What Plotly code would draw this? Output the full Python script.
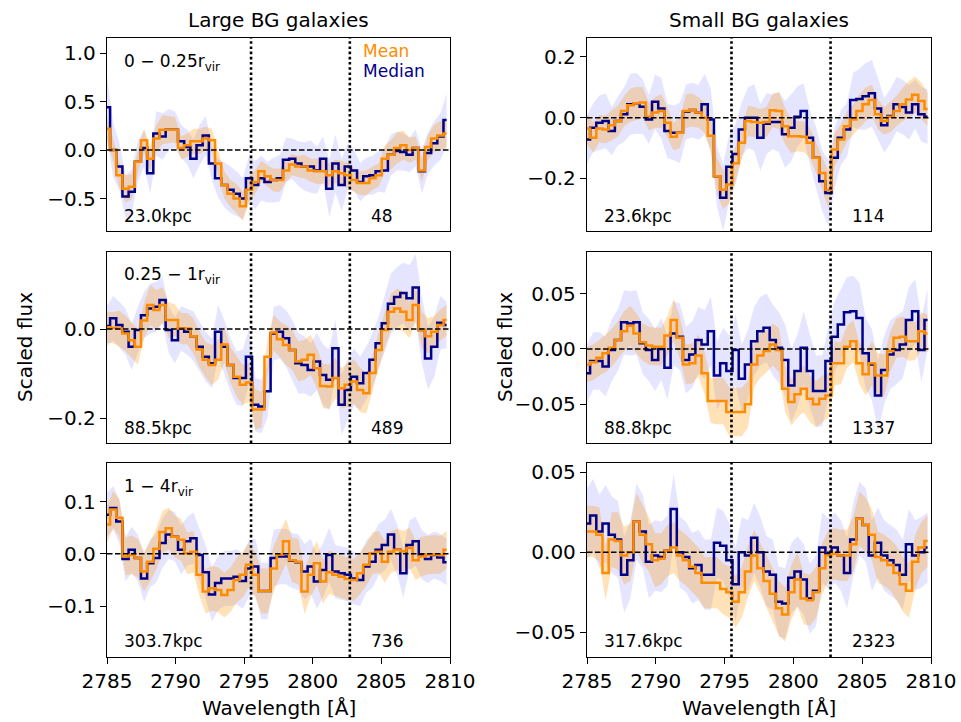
import plotly.graph_objects as go

# ---------------- data ----------------
WAVE_START = 2785.0
WAVE_STEP = 0.45
N_BINS = 56
wave = [round(WAVE_START + WAVE_STEP * i, 3) for i in range(N_BINS)]

LINE_A = 2795.5
LINE_B = 2802.7

# Panel 1: Large BG, 0-0.25 rvir
p1_mean = [0.22, 0.00, -0.26, -0.40, -0.38, -0.12, 0.10, -0.09, 0.12, 0.21, 0.21, 0.21, 0.02, 0.05, 0.09, 0.09,
           0.12, 0.10, -0.14, -0.36, -0.45, -0.50, -0.58, -0.41, -0.33, -0.22, -0.27, -0.31, -0.31, -0.21, -0.15,
           -0.17, -0.17, -0.21, -0.22, -0.22, -0.26, -0.22, -0.24, -0.26, -0.31, -0.34, -0.34, -0.29, -0.26, -0.09,
           -0.05, 0.02, 0.05, 0.00, 0.02, -0.21, 0.03, 0.12, 0.15, 0.17]
p1_median = [0.44, 0.00, -0.17, -0.48, -0.43, -0.12, 0.02, -0.24, 0.17, 0.14, 0.21, 0.21, 0.09, 0.03, -0.09, 0.05,
             0.15, -0.14, -0.29, -0.36, -0.41, -0.45, -0.50, -0.29, -0.36, -0.29, -0.33, -0.31, -0.29, -0.10, -0.09,
             -0.14, -0.17, -0.17, -0.21, -0.09, -0.40, -0.14, -0.36, -0.17, -0.21, -0.33, -0.27, -0.26, -0.22, -0.21,
             -0.05, -0.01, -0.02, -0.05, 0.02, -0.22, -0.03, 0.07, 0.14, 0.31]
p1_mean_err = [0.12, 0.12, 0.13, 0.14, 0.13, 0.12, 0.12, 0.13, 0.14, 0.15, 0.14, 0.13, 0.12, 0.12, 0.13, 0.13, 0.12,
               0.12, 0.13, 0.14, 0.14, 0.15, 0.15, 0.14, 0.12, 0.11, 0.11, 0.12, 0.12, 0.12, 0.11, 0.11, 0.12, 0.12,
               0.13, 0.13, 0.12, 0.12, 0.13, 0.13, 0.12, 0.12, 0.13, 0.12, 0.12, 0.14, 0.15, 0.16, 0.15, 0.13, 0.12,
               0.12, 0.13, 0.14, 0.15, 0.15]
p1_median_err = [0.32, 0.28, 0.24, 0.22, 0.23, 0.21, 0.19, 0.21, 0.23, 0.24, 0.21, 0.19, 0.17, 0.18, 0.20, 0.21, 0.20,
                 0.18, 0.20, 0.23, 0.24, 0.23, 0.21, 0.23, 0.25, 0.23, 0.21, 0.23, 0.24, 0.23, 0.21, 0.23, 0.25, 0.27,
                 0.24, 0.23, 0.29, 0.30, 0.27, 0.24, 0.21, 0.20, 0.19, 0.20, 0.21, 0.23, 0.21, 0.20, 0.19, 0.18, 0.19,
                 0.23, 0.21, 0.23, 0.24, 0.27]

# Panel 2: Small BG, 0-0.25 rvir
p2_mean = [-0.036, -0.066, -0.036, -0.039, -0.025, -0.011, 0.022, 0.041, 0.047, 0.050, 0.003, 0.017, 0.022, -0.017,
           -0.063, -0.050, 0.022, 0.025, 0.017, 0.000, -0.060, -0.193, -0.237, -0.220, -0.150, -0.083, -0.011, -0.014,
           -0.017, -0.014, 0.024, 0.022, -0.028, -0.061, -0.061, -0.063, -0.083, -0.132, -0.182, -0.237, -0.105,
           -0.072, -0.028, -0.006, 0.022, 0.044, 0.058, 0.011, -0.011, 0.003, 0.022, 0.044, 0.060, 0.075, 0.055, 0.028]
p2_median = [-0.072, -0.033, -0.017, -0.011, -0.044, -0.011, 0.011, 0.044, 0.047, 0.036, -0.006, 0.052, 0.030, -0.044,
             -0.050, -0.050, 0.019, 0.025, 0.017, 0.044, -0.006, -0.193, -0.264, -0.162, -0.120, -0.039, 0.000, 0.000,
             -0.066, -0.020, -0.014, -0.014, -0.055, -0.033, 0.003, 0.022, -0.066, -0.132, -0.209, -0.248, -0.132,
             -0.066, -0.039, 0.058, 0.061, 0.070, 0.080, 0.030, -0.025, 0.005, 0.044, 0.035, 0.017, 0.044, 0.011, 0.003]
p2_mean_err = [0.05, 0.05, 0.045, 0.045, 0.05, 0.05, 0.05, 0.055, 0.055, 0.05, 0.045, 0.05, 0.055, 0.05, 0.045, 0.05,
               0.055, 0.055, 0.05, 0.05, 0.055, 0.06, 0.065, 0.06, 0.055, 0.05, 0.05, 0.05, 0.045, 0.05, 0.055, 0.06,
               0.06, 0.055, 0.05, 0.05, 0.05, 0.05, 0.055, 0.06, 0.055, 0.05, 0.05, 0.05, 0.055, 0.055, 0.05, 0.05,
               0.045, 0.05, 0.05, 0.055, 0.06, 0.06, 0.06, 0.055]
p2_median_err = [0.08, 0.08, 0.09, 0.09, 0.08, 0.08, 0.09, 0.10, 0.10, 0.09, 0.08, 0.09, 0.10, 0.09, 0.09, 0.10, 0.09,
                 0.09, 0.09, 0.10, 0.10, 0.10, 0.11, 0.11, 0.10, 0.09, 0.10, 0.11, 0.11, 0.10, 0.09, 0.10, 0.11, 0.11,
                 0.10, 0.09, 0.09, 0.10, 0.10, 0.11, 0.10, 0.09, 0.09, 0.09, 0.10, 0.11, 0.11, 0.10, 0.09, 0.09, 0.09,
                 0.09, 0.09, 0.08, 0.09, 0.09]

# Panel 3: Large BG, 0.25-1 rvir
p3_mean = [0.004, 0.003, 0.001, -0.010, -0.025, -0.040, 0.019, 0.054, 0.043, 0.054, 0.020, 0.020, 0.001, 0.001,
           -0.016, -0.046, -0.069, -0.081, -0.069, -0.035, -0.081, -0.107, -0.125, -0.120, -0.181, -0.181, -0.062,
           -0.008, -0.023, -0.036, -0.047, -0.073, -0.069, -0.058, -0.088, -0.128, -0.129, -0.110, -0.133, -0.125,
           -0.118, -0.137, -0.144, -0.099, -0.047, -0.002, 0.039, 0.046, 0.039, 0.020, 0.054, -0.002, -0.016, -0.006,
           0.009, 0.020]
p3_median = [0.007, 0.024, 0.009, -0.006, -0.040, -0.002, 0.031, 0.046, 0.050, 0.065, -0.002, -0.025, 0.001, -0.006,
             -0.016, -0.040, -0.062, -0.077, -0.006, -0.040, -0.081, -0.110, -0.110, -0.062, -0.170, -0.174, -0.140,
             -0.010, -0.006, -0.021, -0.047, -0.077, -0.081, -0.092, -0.073, -0.103, -0.114, -0.043, -0.170, -0.137,
             -0.107, -0.122, -0.099, -0.069, -0.032, 0.013, 0.057, 0.072, 0.081, 0.069, 0.093, -0.002, -0.066, -0.040,
             0.014, 0.009]
p3_mean_err = [0.035, 0.035, 0.04, 0.04, 0.04, 0.04, 0.04, 0.045, 0.045, 0.04, 0.04, 0.035, 0.035, 0.035, 0.04, 0.04,
               0.04, 0.045, 0.045, 0.04, 0.04, 0.045, 0.045, 0.045, 0.045, 0.04, 0.04, 0.04, 0.04, 0.045, 0.045, 0.045,
               0.045, 0.045, 0.045, 0.05, 0.05, 0.045, 0.045, 0.05, 0.05, 0.05, 0.045, 0.04, 0.04, 0.04, 0.04, 0.045,
               0.045, 0.04, 0.04, 0.04, 0.04, 0.035, 0.035, 0.035]
p3_median_err = [0.045, 0.05, 0.052, 0.052, 0.052, 0.052, 0.052, 0.056, 0.056, 0.052, 0.052, 0.052, 0.05, 0.052,
                 0.056, 0.056, 0.056, 0.056, 0.06, 0.06, 0.06, 0.06, 0.064, 0.064, 0.06, 0.06, 0.06, 0.06, 0.06, 0.064,
                 0.068, 0.068, 0.064, 0.06, 0.064, 0.068, 0.068, 0.064, 0.068, 0.068, 0.064, 0.06, 0.06, 0.06, 0.06,
                 0.064, 0.068, 0.068, 0.068, 0.075, 0.075, 0.075, 0.07, 0.068, 0.06, 0.052]

# Panel 4: Small BG, 0.25-1 rvir
p4_mean = [-0.014, -0.012, -0.008, -0.004, 0.001, 0.008, 0.016, 0.021, 0.014, 0.006, 0.003, 0.002, 0.002, 0.012,
           0.026, 0.010, -0.014, -0.013, -0.006, -0.022, -0.047, -0.047, -0.047, -0.057, -0.057, -0.057, -0.050,
           -0.014, -0.006, -0.002, 0.004, -0.001, -0.036, -0.048, -0.041, -0.036, -0.045, -0.050, -0.045, -0.042,
           -0.013, -0.013, 0.002, 0.007, -0.013, -0.023, -0.013, -0.024, -0.024, -0.002, 0.010, 0.011, 0.007, 0.007,
           0.016, 0.014]
p4_median = [-0.022, -0.011, -0.011, -0.016, -0.001, 0.008, 0.024, 0.023, 0.024, 0.005, -0.001, -0.010, 0.000,
             -0.017, 0.014, 0.011, -0.010, -0.005, 0.008, 0.004, 0.016, -0.024, -0.013, -0.020, -0.001, -0.027, -0.014,
             0.007, 0.016, 0.019, 0.008, 0.001, -0.010, -0.033, -0.020, 0.001, -0.020, -0.038, -0.038, -0.011, 0.011,
             0.022, 0.033, 0.034, 0.028, -0.004, -0.014, -0.042, -0.019, -0.005, -0.001, 0.004, 0.026, 0.034, -0.001,
             0.026]
p4_mean_err = [0.016, 0.016, 0.016, 0.017, 0.017, 0.017, 0.018, 0.018, 0.018, 0.017, 0.017, 0.017, 0.017, 0.018,
               0.019, 0.019, 0.018, 0.018, 0.019, 0.019, 0.020, 0.021, 0.021, 0.022, 0.022, 0.022, 0.021, 0.020, 0.020,
               0.019, 0.019, 0.020, 0.021, 0.021, 0.021, 0.021, 0.021, 0.021, 0.021, 0.020, 0.020, 0.019, 0.019, 0.019,
               0.019, 0.019, 0.020, 0.020, 0.019, 0.018, 0.018, 0.018, 0.018, 0.017, 0.017, 0.017]
p4_median_err = [0.026, 0.026, 0.026, 0.027, 0.028, 0.028, 0.029, 0.029, 0.029, 0.028, 0.028, 0.028, 0.028, 0.029,
                 0.029, 0.030, 0.030, 0.030, 0.030, 0.031, 0.031, 0.031, 0.032, 0.032, 0.032, 0.031, 0.031, 0.031,
                 0.031, 0.031, 0.032, 0.032, 0.032, 0.033, 0.033, 0.033, 0.033, 0.032, 0.032, 0.032, 0.032, 0.032,
                 0.032, 0.032, 0.032, 0.032, 0.032, 0.032, 0.031, 0.031, 0.031, 0.030, 0.030, 0.029, 0.029, 0.028]

# Panel 5: Large BG, 1-4 rvir
p5_mean = [0.056, 0.085, 0.069, -0.005, -0.002, -0.008, -0.034, -0.015, 0.010, 0.042, 0.049, 0.033, 0.027, 0.001,
           0.004, -0.040, -0.072, -0.066, -0.069, -0.079, -0.069, -0.050, -0.040, -0.021, -0.040, -0.071, -0.071,
           -0.028, -0.001, 0.024, -0.012, -0.015, -0.072, -0.040, -0.018, -0.053, -0.035, -0.040, -0.044, -0.048,
           -0.050, -0.037, -0.021, 0.001, 0.004, -0.015, 0.004, 0.008, 0.005, 0.011, -0.012, -0.005, -0.002, -0.001,
           -0.002, 0.008]
p5_median = [0.075, 0.088, 0.062, -0.010, 0.008, -0.008, -0.047, -0.018, -0.008, 0.021, 0.037, 0.033, 0.008, 0.024,
             0.030, -0.002, -0.035, -0.078, -0.056, -0.047, -0.047, -0.044, -0.052, -0.028, -0.024, -0.071, -0.071,
             -0.008, -0.005, -0.005, -0.013, -0.016, -0.034, -0.024, -0.053, -0.031, -0.002, -0.034, -0.037, -0.040,
             -0.047, -0.050, -0.024, -0.015, 0.008, 0.017, 0.037, 0.008, -0.037, 0.017, 0.024, -0.002, -0.010, -0.002,
             -0.007, -0.016]
p5_mean_err = [0.035, 0.035, 0.036, 0.036, 0.037, 0.037, 0.038, 0.038, 0.039, 0.040, 0.040, 0.040, 0.040, 0.040,
               0.040, 0.041, 0.042, 0.043, 0.043, 0.043, 0.043, 0.043, 0.043, 0.043, 0.043, 0.043, 0.043, 0.043, 0.043,
               0.043, 0.043, 0.043, 0.043, 0.042, 0.042, 0.042, 0.042, 0.041, 0.041, 0.041, 0.040, 0.040, 0.040, 0.040,
               0.040, 0.040, 0.040, 0.040, 0.039, 0.039, 0.038, 0.038, 0.037, 0.037, 0.036, 0.036]
p5_median_err = [0.042, 0.042, 0.042, 0.043, 0.044, 0.045, 0.045, 0.046, 0.047, 0.047, 0.047, 0.047, 0.047, 0.047,
                 0.049, 0.050, 0.051, 0.052, 0.052, 0.053, 0.053, 0.053, 0.053, 0.054, 0.054, 0.054, 0.054, 0.054,
                 0.053, 0.053, 0.053, 0.053, 0.053, 0.053, 0.052, 0.052, 0.052, 0.051, 0.051, 0.051, 0.050, 0.050,
                 0.050, 0.050, 0.049, 0.049, 0.049, 0.048, 0.047, 0.047, 0.047, 0.047, 0.046, 0.045, 0.045, 0.044]

# Panel 6: Small BG, 1-4 rvir
p6_mean = [0.013, 0.013, 0.011, -0.013, 0.008, 0.007, -0.002, 0.000, 0.019, 0.011, 0.005, -0.005, -0.004, 0.001,
           0.003, -0.002, -0.005, -0.009, -0.013, -0.019, -0.019, -0.019, -0.023, -0.025, -0.031, -0.025, -0.012,
           -0.002, -0.010, -0.018, -0.026, -0.035, -0.039, -0.025, -0.017, -0.029, -0.030, -0.025, -0.010, -0.002,
           -0.001, -0.002, -0.002, 0.005, 0.021, 0.017, 0.011, -0.003, -0.005, -0.008, -0.013, -0.020, -0.024, -0.006,
           0.003, 0.007]
p6_median = [0.018, 0.023, 0.013, 0.018, 0.011, 0.008, -0.014, -0.005, 0.019, 0.013, -0.006, -0.002, -0.003, 0.001,
             0.027, 0.000, -0.003, -0.010, -0.008, -0.014, -0.014, 0.006, 0.004, -0.005, -0.020, 0.000, -0.002, 0.009,
             0.000, -0.012, -0.014, -0.031, -0.032, -0.016, -0.012, -0.017, -0.029, -0.024, 0.003, -0.001, 0.003,
             -0.002, -0.013, 0.008, 0.021, 0.017, -0.002, 0.006, -0.002, -0.005, -0.008, -0.014, 0.005, -0.002, 0.000,
             0.003]
p6_mean_err = [0.016, 0.016, 0.017, 0.017, 0.017, 0.018, 0.018, 0.018, 0.018, 0.018, 0.017, 0.017, 0.016, 0.016,
               0.016, 0.016, 0.016, 0.016, 0.016, 0.016, 0.016, 0.016, 0.016, 0.016, 0.016, 0.016, 0.016, 0.016, 0.016,
               0.016, 0.017, 0.017, 0.017, 0.017, 0.017, 0.016, 0.016, 0.016, 0.016, 0.016, 0.016, 0.016, 0.016, 0.017,
               0.017, 0.017, 0.016, 0.016, 0.016, 0.016, 0.017, 0.017, 0.017, 0.017, 0.016, 0.016]
p6_median_err = [0.022, 0.023, 0.023, 0.024, 0.024, 0.024, 0.024, 0.024, 0.024, 0.023, 0.023, 0.022, 0.022, 0.022,
                 0.022, 0.022, 0.022, 0.022, 0.022, 0.022, 0.022, 0.022, 0.022, 0.023, 0.023, 0.022, 0.022, 0.022,
                 0.022, 0.022, 0.022, 0.022, 0.022, 0.022, 0.022, 0.022, 0.022, 0.022, 0.022, 0.022, 0.022, 0.022,
                 0.022, 0.023, 0.023, 0.023, 0.022, 0.022, 0.022, 0.022, 0.022, 0.022, 0.022, 0.022, 0.022, 0.022]

range_labels = ["0 − 0.25r<sub>vir</sub>", "0.25 − 1r<sub>vir</sub>", "1 − 4r<sub>vir</sub>"]
dist_labels = ["23.0kpc", "23.6kpc", "88.5kpc", "88.8kpc", "303.7kpc", "317.6kpc"]
count_labels = ["48", "114", "489", "1337", "736", "2323"]
column_titles = ["Large BG galaxies", "Small BG galaxies"]
x_ticks = [2785, 2790, 2795, 2800, 2805, 2810]

y_ranges = [[-0.835, 1.155], [-0.373, 0.262], [-0.256, 0.173], [-0.085, 0.0875], [-0.1975, 0.174], [-0.0655, 0.0558]]
y_ticks = [[-0.5, 0.0, 0.5, 1.0], [-0.2, 0.0, 0.2], [-0.2, 0.0], [-0.05, 0.0, 0.05], [-0.1, 0.0, 0.1],
           [-0.05, 0.0, 0.05]]
y_formats = [".1f", ".1f", ".1f", ".2f", ".1f", ".2f"]

panels = [
    (p1_mean, p1_median, p1_mean_err, p1_median_err),
    (p2_mean, p2_median, p2_mean_err, p2_median_err),
    (p3_mean, p3_median, p3_mean_err, p3_median_err),
    (p4_mean, p4_median, p4_mean_err, p4_median_err),
    (p5_mean, p5_median, p5_mean_err, p5_median_err),
    (p6_mean, p6_median, p6_mean_err, p6_median_err),
]

# ---------------- styling / layout ----------------
W, H = 961, 722
MEAN_COLOR = "#FF8C00"
MEDIAN_COLOR = "#00008B"
MEAN_BAND = "rgba(255,150,0,0.28)"
MEDIAN_BAND = "rgba(0,0,255,0.10)"
FONT = "DejaVu Sans"
TICK_SIZE = 20
LABEL_SIZE = 17

col_px = [(107, 450), (587, 931)]
row_px = [(38, 231), (252, 443), (463, 657)]

fig = go.Figure()
shapes = []
annotations = []


def sfx(k):
    return "" if k == 1 else str(k)


def band(xs, ys, es, color, k):
    upper = [y + e for y, e in zip(ys, es)]
    lower = [y - e for y, e in zip(ys, es)]
    return go.Scatter(x=list(xs) + list(xs)[::-1], y=upper + lower[::-1], fill="toself", fillcolor=color,
                      line=dict(width=0), mode="lines", hoverinfo="skip", showlegend=False,
                      xaxis="x" + sfx(k), yaxis="y" + sfx(k))


layout_axes = {}
for idx, (mean, median, mean_err, median_err) in enumerate(panels):
    k = idx + 1
    s = sfx(k)
    row, col = idx // 2, idx % 2
    x0, x1 = col_px[col]
    yt, yb = row_px[row]
    xd = [x0 / W, x1 / W]
    yd = [1 - yb / H, 1 - yt / H]

    fig.add_trace(band(wave, median, median_err, MEDIAN_BAND, k))
    fig.add_trace(band(wave, mean, mean_err, MEAN_BAND, k))
    fig.add_trace(go.Scatter(x=wave, y=median, mode="lines", line=dict(color=MEDIAN_COLOR, width=2.5, shape="hvh"),
                             showlegend=False, xaxis="x" + s, yaxis="y" + s))
    fig.add_trace(go.Scatter(x=wave, y=mean, mode="lines", line=dict(color=MEAN_COLOR, width=2.5, shape="hvh"),
                             showlegend=False, xaxis="x" + s, yaxis="y" + s))

    bottom = row == 2
    layout_axes["xaxis" + s] = dict(domain=xd, anchor="y" + s, range=[2785, 2810], showgrid=False, zeroline=False,
                                    showline=True, mirror=True, linecolor="black", linewidth=1.3,
                                    ticks="outside" if bottom else "", ticklen=6, tickwidth=1.3, tickcolor="black",
                                    tickvals=x_ticks, showticklabels=bottom, automargin=False,
                                    tickfont=dict(family=FONT, size=TICK_SIZE, color="black"))
    layout_axes["yaxis" + s] = dict(domain=yd, anchor="x" + s, range=y_ranges[idx], showgrid=False, zeroline=False,
                                    showline=True, mirror=True, linecolor="black", linewidth=1.3,
                                    ticks="outside", ticklen=6, tickwidth=1.3, tickcolor="black",
                                    tickvals=y_ticks[idx], tickformat=y_formats[idx], automargin=False,
                                    tickfont=dict(family=FONT, size=TICK_SIZE, color="black"))

    # zero line and line markers
    shapes.append(dict(type="line", xref="x" + s + " domain", yref="y" + s, x0=0, x1=1, y0=0, y1=0,
                       line=dict(color="black", width=1.5, dash="5.5px,2.5px"), layer="above"))
    for lx in (LINE_A, LINE_B):
        shapes.append(dict(type="line", xref="x" + s, yref="y" + s + " domain", x0=lx, x1=lx, y0=0, y1=1,
                           line=dict(color="black", width=2.6, dash="2.6px,2.6px"), layer="above"))

    annotations.append(dict(text=dist_labels[idx], xref="x" + s + " domain", yref="y" + s + " domain", x=0.043,
                            y=0.08, xanchor="left", yanchor="middle", showarrow=False,
                            font=dict(family=FONT, size=LABEL_SIZE, color="black")))
    annotations.append(dict(text=count_labels[idx], xref="x" + s + " domain", yref="y" + s + " domain", x=0.764,
                            y=0.08, xanchor="left", yanchor="middle", showarrow=False,
                            font=dict(family=FONT, size=LABEL_SIZE, color="black")))
    if col == 0:
        annotations.append(dict(text=range_labels[row], xref="x" + s + " domain", yref="y" + s + " domain",
                                x=0.043, y=0.875, xanchor="left", yanchor="middle", showarrow=False,
                                font=dict(family=FONT, size=LABEL_SIZE, color="black")))

# Mean / Median labels (top-left panel)
annotations.append(dict(text="Mean", xref="x domain", yref="y domain", x=0.74, y=0.933, xanchor="left",
                        yanchor="middle", showarrow=False, font=dict(family=FONT, size=LABEL_SIZE, color=MEAN_COLOR)))
annotations.append(dict(text="Median", xref="x domain", yref="y domain", x=0.74, y=0.829, xanchor="left",
                        yanchor="middle", showarrow=False,
                        font=dict(family=FONT, size=LABEL_SIZE, color=MEDIAN_COLOR)))

# Column titles, axis labels
for c, title in enumerate(column_titles):
    cx = (col_px[c][0] + col_px[c][1]) / 2 / W
    annotations.append(dict(text=title, xref="paper", yref="paper", x=cx, y=1 - 20 / H, xanchor="center",
                            yanchor="middle", showarrow=False, font=dict(family=FONT, size=20, color="black")))
    annotations.append(dict(text="Wavelength [Å]", xref="paper", yref="paper", x=cx, y=1 - 708 / H,
                            xanchor="center", yanchor="middle", showarrow=False,
                            font=dict(family=FONT, size=20, color="black")))
for px in (25, 505):
    annotations.append(dict(text="Scaled flux", xref="paper", yref="paper", x=px / W, y=1 - 347 / H,
                            xanchor="center", yanchor="middle", textangle=-90, showarrow=False,
                            font=dict(family=FONT, size=20, color="black")))

fig.update_layout(width=W, height=H, margin=dict(l=0, r=0, t=0, b=0, autoexpand=False), paper_bgcolor="white",
                  plot_bgcolor="white", showlegend=False, shapes=shapes, annotations=annotations,
                  font=dict(family=FONT, color="black"), **layout_axes)

fig.write_html("out.html")
